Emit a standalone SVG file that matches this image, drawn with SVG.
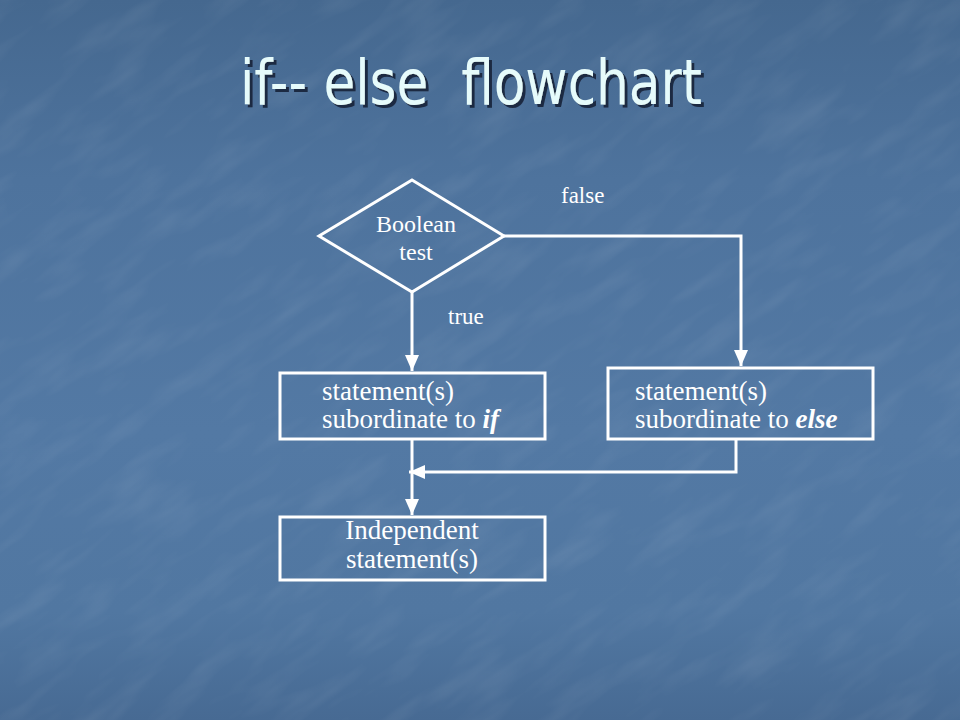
<svg xmlns="http://www.w3.org/2000/svg" width="960" height="720" viewBox="0 0 960 720">
  <defs>
    <linearGradient id="bg" x1="0" y1="0" x2="0" y2="1">
      <stop offset="0" stop-color="#45688f"/>
      <stop offset="0.25" stop-color="#4e739d"/>
      <stop offset="0.6" stop-color="#5379a4"/>
      <stop offset="0.85" stop-color="#5177a1"/>
      <stop offset="1" stop-color="#476a93"/>
    </linearGradient>
    <filter id="tex" x="0" y="0" width="100%" height="100%">
      <feTurbulence type="fractalNoise" baseFrequency="0.012 0.045" numOctaves="3" seed="4" result="n"/>
      <feColorMatrix in="n" type="matrix" values="0 0 0 0 1  0 0 0 0 1  0 0 0 0 1  0 0 0 1.2 -0.55" result="w"/>
      <feComposite in="w" in2="SourceGraphic" operator="in"/>
    </filter>
    <filter id="shadow" x="-5%" y="-20%" width="110%" height="140%">
      <feDropShadow dx="3" dy="3" stdDeviation="0.6" flood-color="#1b2a42" flood-opacity="1"/>
    </filter>
    <marker id="arr" viewBox="0 0 16 14" refX="16" refY="7" markerWidth="16" markerHeight="14" markerUnits="userSpaceOnUse" orient="auto">
      <path d="M0,0 L16,7 L0,14 Z" fill="#ffffff"/>
    </marker>
    <style>
      .shape { fill: none; stroke: #ffffff; stroke-width: 3; }
      .conn { fill: none; stroke: #ffffff; stroke-width: 3; }
      .lbl { font-family: "Liberation Serif", "Times New Roman", serif; fill: #ffffff; }
      .box { font-size: 27px; }
      .bi { font-weight: bold; font-style: italic; }
      .title { font-family: "DejaVu Sans", Tahoma, sans-serif; font-size: 62px; fill: #e6fbfb; }
    </style>
  </defs>

  <rect x="0" y="0" width="960" height="720" fill="url(#bg)"/>
  <g transform="rotate(-35 480 360)">
    <rect x="-300" y="-300" width="1560" height="1320" fill="#ffffff" opacity="0.12" filter="url(#tex)"/>
  </g>

  <g id="title">
    <text class="title" x="240" y="104" filter="url(#shadow)" textLength="462" lengthAdjust="spacingAndGlyphs" xml:space="preserve">if-- else  flowchart</text>
  </g>

  <g id="connectors">
    <path class="conn" d="M412,292 V371" marker-end="url(#arr)"/>
    <path class="conn" d="M504,236 H741 V366" marker-end="url(#arr)"/>
    <path class="conn" d="M736,439 V472 H409" marker-end="url(#arr)"/>
    <path class="conn" d="M412,439 V515" marker-end="url(#arr)"/>
  </g>

  <g id="decision">
    <polygon class="shape" points="412,180 504,236 412,292 319,236"/>
    <text class="lbl" x="416" y="232" font-size="24" text-anchor="middle">Boolean</text>
    <text class="lbl" x="416" y="260" font-size="24" text-anchor="middle">test</text>
  </g>

  <g id="label-false">
    <text class="lbl" x="561" y="203" font-size="23">false</text>
  </g>
  <g id="label-true">
    <text class="lbl" x="448" y="324" font-size="23">true</text>
  </g>

  <g id="if-box">
    <rect class="shape" x="280" y="373" width="265" height="66"/>
    <text class="lbl box" x="322" y="400">statement(s)</text>
    <text class="lbl box" x="322" y="428">subordinate to <tspan class="bi">if</tspan></text>
  </g>

  <g id="else-box">
    <rect class="shape" x="608" y="368" width="265" height="71"/>
    <text class="lbl box" x="635" y="400">statement(s)</text>
    <text class="lbl box" x="635" y="428">subordinate to <tspan class="bi">else</tspan></text>
  </g>

  <g id="independent-box">
    <rect class="shape" x="280" y="517" width="265" height="63"/>
    <text class="lbl box" x="412" y="539" text-anchor="middle">Independent</text>
    <text class="lbl box" x="412" y="568" text-anchor="middle">statement(s)</text>
  </g>
</svg>
